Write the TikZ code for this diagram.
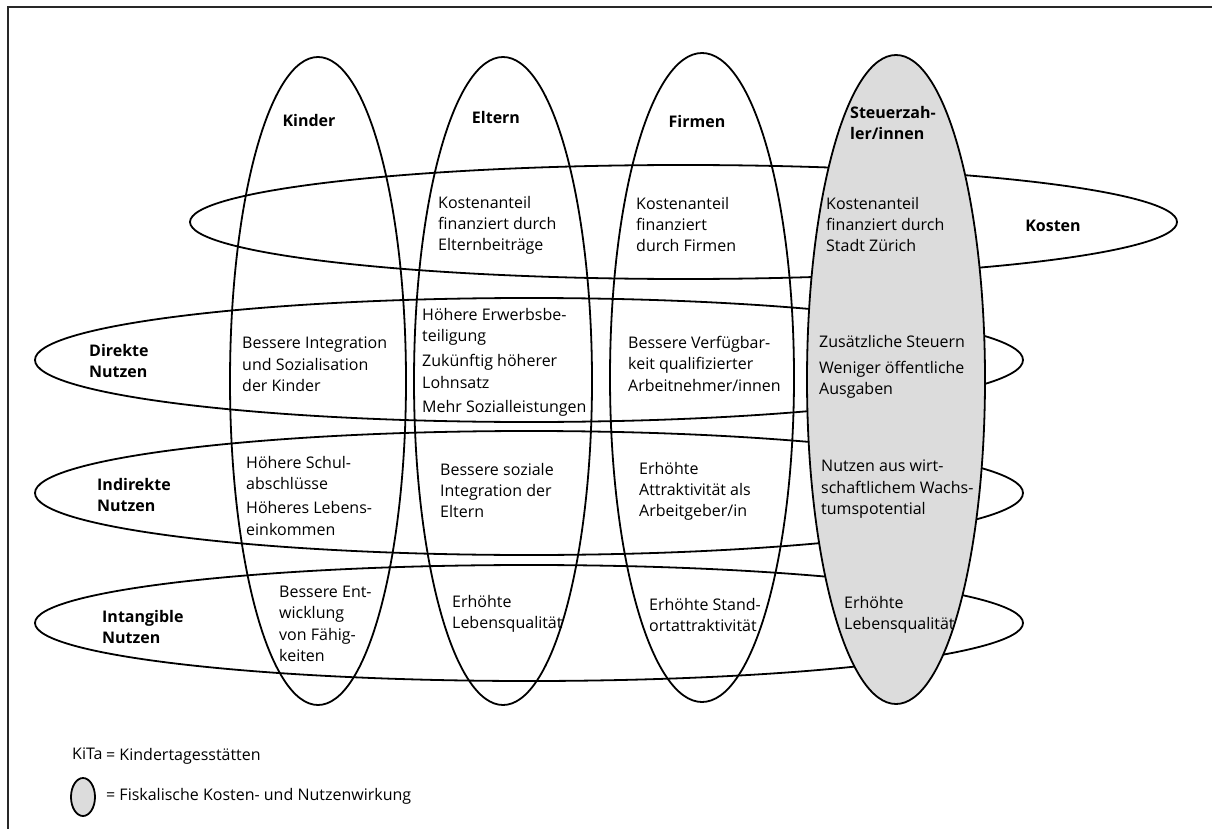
\documentclass[tikz,border=0pt]{standalone}
\usepackage{fontspec}
\setmainfont{Open Sans}
\usetikzlibrary{shapes.geometric}
\definecolor{fisk}{RGB}{220,220,220}
\definecolor{framec}{RGB}{40,40,40}
\tikzset{
  ell/.style={ellipse, draw=black, line width=1.8pt, inner sep=0pt, outer sep=0pt},
  txt/.style={anchor=north west, inner sep=0pt, align=left, font=\fontsize{16}{21.3}\selectfont},
  lbl/.style={anchor=north west, inner sep=0pt, align=left, font=\fontsize{16}{21}\selectfont\bfseries},
  clbl/.style={anchor=base, inner sep=0pt, font=\fontsize{16}{21}\selectfont\bfseries}
}
\begin{document}
\begin{tikzpicture}[x=1pt,y=-1pt]
\useasboundingbox (0,0) rectangle (1212,829);
% frame
\coordinate (fa) at (7.5,829);
\coordinate (fb) at (7.5,7.5);
\coordinate (fc) at (1212,7.5);
\draw[framec, line width=2pt] (fa) -- (fb) -- (fc);
% horizontal ellipses
\node[ell, minimum width=987pt, minimum height=114pt] (kosten) at (683.5,222) {};
\node[ell, minimum width=988pt, minimum height=124pt] (direkt) at (529,360) {};
\node[ell, minimum width=988pt, minimum height=124pt] (indirekt) at (529,493) {};
\node[ell, minimum width=988pt, minimum height=116pt] (intang) at (529,623) {};
% vertical ellipses
\node[ell, minimum width=176pt, minimum height=648pt] (kinder) at (318,381) {};
\node[ell, minimum width=178pt, minimum height=648pt] (eltern) at (503,381) {};
\node[ell, minimum width=184pt, minimum height=649pt] (firmen) at (702,377.5) {};
\node[ell, fill=fisk, minimum width=178pt, minimum height=649pt] (steuer) at (896,379.5) {};
% column labels
\node[clbl] (lkinder) at (309,127) {Kinder};
\node[clbl] (leltern) at (496,124) {Eltern};
\node[clbl] (lfirmen) at (697,128) {Firmen};
\node[lbl] (lsteuer) at (850,106) {Steuerzah-\\ler/innen};
% row labels
\node[clbl] (lkosten) at (1053,231) {Kosten};
\node[lbl] (ldirekt) at (89,344) {Direkte\\Nutzen};
\node[lbl] (lindirekt) at (97,478) {Indirekte\\Nutzen};
\node[lbl] (lintang) at (102,610) {Intangible\\Nutzen};
% Kosten row
\node[txt] (ek) at (438,196) {Kostenanteil\\finanziert durch\\Elternbeiträge};
\node[txt] (fk) at (636,197) {Kostenanteil\\finanziert\\durch Firmen};
\node[txt] (sk) at (826,197) {Kostenanteil\\finanziert durch\\Stadt Zürich};
% Direkte row
\node[txt] (kd) at (242,337) {Bessere Integration\\und Sozialisation\\der Kinder};
\node[txt] (ed) at (422,308) {Höhere Erwerbsbe-\\teiligung\\[4pt]Zukünftig höherer\\Lohnsatz\\[3pt]Mehr Sozialleistungen};
\node[txt] (fd) at (628,336) {Bessere Verfügbar-\\keit qualifizierter\\Arbeitnehmer/innen};
\node[txt] (sd) at (819,335) {Zusätzliche Steuern\\[5pt]Weniger öffentliche\\Ausgaben};
% Indirekte row
\node[txt] (ki) at (246,456) {Höhere Schul-\\abschlüsse\\[3pt]Höheres Lebens-\\einkommen};
\node[txt] (ei) at (440,463) {Bessere soziale\\Integration der\\Eltern};
\node[txt] (fi) at (639,462) {Erhöhte\\Attraktivität als\\Arbeitgeber/in};
\node[txt] (si) at (821,460) {Nutzen aus wirt-\\schaftlichem Wachs-\\tumspotential};
% Intangible row
\node[txt] (kn) at (279,586) {Bessere Ent-\\wicklung\\von Fähig-\\keiten};
\node[txt] (en) at (452,595) {Erhöhte\\Lebensqualität};
\node[txt] (fn) at (649,598) {Erhöhte Stand-\\ortattraktivität};
\node[txt] (sn) at (844,596) {Erhöhte\\Lebensqualität};
% legend
\node[txt] (kita) at (72,748) {KiTa};
\node[txt] (kitatxt) at (106,748) {= Kindertagesstätten};
\node[ell, fill=fisk, minimum width=24pt, minimum height=38pt] (legell) at (83,797) {};
\node[txt] (legtxt) at (106,788) {= Fiskalische Kosten- und Nutzenwirkung};
\end{tikzpicture}
\end{document}
